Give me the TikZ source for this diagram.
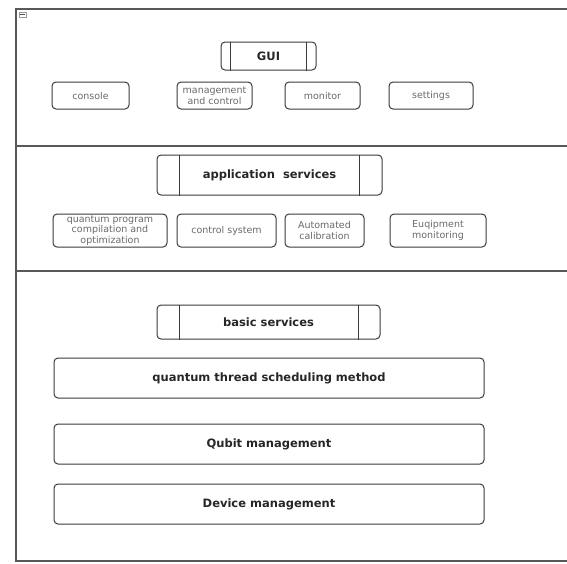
\documentclass[tikz,border=0pt]{standalone}
\usepackage{fontspec}
\setmainfont{DejaVu Sans}
\usetikzlibrary{positioning}
\definecolor{inkline}{HTML}{3A3A3A}
\definecolor{inktext}{HTML}{6A6A6A}

\begin{document}
\begin{tikzpicture}[
        x=1pt, y=-1pt,
        layer/.style={draw=inkline!85, line width=1.3pt},
        head/.style={rectangle, rounded corners=4pt, draw=inkline, line width=1pt,
            minimum height=28pt, align=center, text=black!85,
            font=\fontsize{11.5}{13}\selectfont\bfseries},
        item/.style={rectangle, rounded corners=4pt, draw=inkline, line width=1pt,
            minimum height=27pt, align=center, inner sep=1pt, text=inktext,
            font=\fontsize{9.5}{10.5}\selectfont},
        wide/.style={rectangle, rounded corners=4pt, draw=inkline, line width=1pt,
            minimum width=430pt, minimum height=40pt, text=black!85,
            font=\fontsize{11.5}{13}\selectfont\bfseries},
        bar/.style={draw=inkline, line width=1pt}
    ]
    \useasboundingbox (0,0) rectangle (567,563);

    % frame and layers
    \draw[layer] (567,9) -- (16,9) -- (16,561) -- (567,561);
    \draw[layer] (16,146) -- (567,146);
    \draw[layer] (16,271) -- (567,271);
    \node[draw=black!40, line width=0.6pt, minimum width=7pt, minimum height=5pt,
        inner sep=0pt] (collapse) at (22.5,14.5) {};
    \draw[black!70, line width=0.8pt] ([xshift=1.5pt]collapse.west) -- ([xshift=-1.5pt]collapse.east);

    % GUI
    \node[head, minimum width=95pt] (gui) at (268.5,56) {GUI};
    \draw[bar] ([xshift=10pt]gui.north west) -- ([xshift=10pt]gui.south west);
    \draw[bar] ([xshift=-10pt]gui.north east) -- ([xshift=-10pt]gui.south east);
    \node[item, minimum width=77pt] (console) at (90.5,95.5) {console};
    \node[item, minimum width=75pt, right=47pt of console] (manage) {management\\and control};
    \node[item, minimum width=75pt, right=32pt of manage] (monitor) {monitor};
    \node[item, minimum width=84pt, right=28pt of monitor] (settings) {settings};

    % application services
    \node[head, minimum width=225pt, minimum height=40pt] (appsvc) at (269.5,175) {application\ \ services};
    \draw[bar] ([xshift=23pt]appsvc.north west) -- ([xshift=23pt]appsvc.south west);
    \draw[bar] ([xshift=-23pt]appsvc.north east) -- ([xshift=-23pt]appsvc.south east);
    \node[item, minimum width=114pt, minimum height=33pt] (compile) at (110,230.5) {quantum program\\compilation and\\optimization};
    \node[item, minimum width=99pt, minimum height=33pt, right=9pt of compile] (control) {control system};
    \node[item, minimum width=79pt, minimum height=33pt, right=8pt of control] (calib) {Automated\\calibration};
    \node[item, minimum width=96pt, minimum height=33pt, right=25pt of calib] (equip) {Euqipment\\monitoring};

    % basic services
    \node[head, minimum width=223pt, minimum height=34pt] (basic) at (268.5,322) {basic services};
    \draw[bar] ([xshift=23pt]basic.north west) -- ([xshift=23pt]basic.south west);
    \draw[bar] ([xshift=-22pt]basic.north east) -- ([xshift=-22pt]basic.south east);
    \node[wide] (sched) at (269,378) {quantum thread scheduling method};
    \node[wide, below=25pt of sched] (qubit) {Qubit management};
    \node[wide, below=19pt of qubit] (device) {Device management};
\end{tikzpicture}
\end{document}
